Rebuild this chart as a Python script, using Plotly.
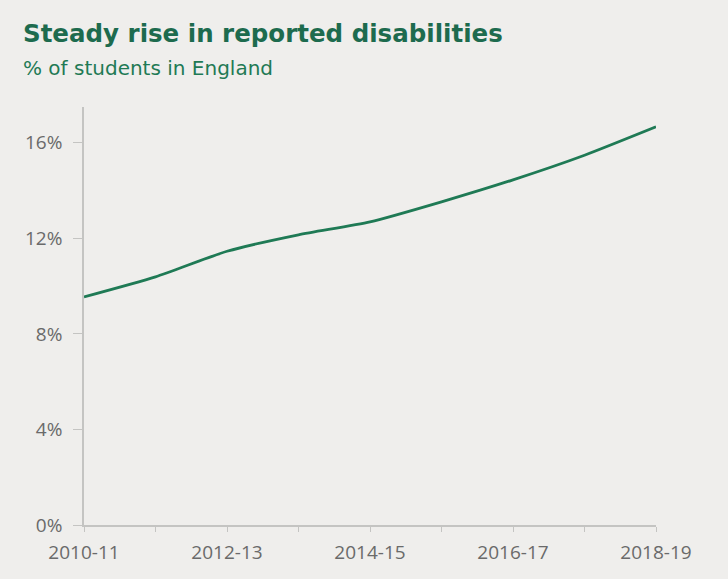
import plotly.graph_objects as go

years = ["2010-11", "2011-12", "2012-13", "2013-14", "2014-15",
         "2015-16", "2016-17", "2017-18", "2018-19"]
share = [9.55, 10.39, 11.46, 12.15, 12.69, 13.53, 14.45, 15.48, 16.67]
tick_text = ["2010-11", "", "2012-13", "", "2014-15", "", "2016-17", "", "2018-19"]
y_ticks = [0, 4, 8, 12, 16]
y_text = ["0%", "4%", "8%", "12%", "16%"]

title = "Steady rise in reported disabilities"
subtitle = "% of students in England"

bg = "#efeeec"
green = "#1f7a55"
title_green = "#1d6b4e"
grey_axis = "#c4c4c2"
grey_text = "#6a6a6a"

L, R, T, B = 84, 72, 107, 54
PW, PH = 728 - L - R, 579 - T - B

fig = go.Figure()
fig.add_trace(go.Scatter(
    x=list(range(len(years))), y=share, mode="lines",
    line=dict(color=green, width=2.8, shape="spline", smoothing=0.6),
    hoverinfo="skip", showlegend=False,
))

fig.update_layout(
    width=728, height=579,
    paper_bgcolor=bg, plot_bgcolor=bg,
    margin=dict(l=L, r=R, t=T, b=B),
    font=dict(family="Open Sans, sans-serif", color=grey_text),
    xaxis=dict(
        range=[0, 8], tickmode="array", tickvals=list(range(len(years))),
        ticktext=tick_text, showgrid=False, zeroline=False,
        showline=True, linecolor=grey_axis, linewidth=1.5,
        ticks="outside", ticklen=5, tickcolor=grey_axis, tickwidth=1.2,
        ticklabelstandoff=4,
        tickfont=dict(size=19, color=grey_text), fixedrange=True,
    ),
    yaxis=dict(
        range=[0, 17.5], tickmode="array", tickvals=y_ticks, ticktext=y_text,
        showgrid=False, zeroline=False,
        showline=True, linecolor=grey_axis, linewidth=1.5,
        ticks="outside", ticklen=9, tickcolor=grey_axis, tickwidth=1.2,
        ticklabelstandoff=7,
        tickfont=dict(size=19, color=grey_text), fixedrange=True,
    ),
    annotations=[
        dict(text="<b>" + title + "</b>", xref="paper", yref="paper",
             x=(21 - L) / PW, y=1 + (T - 34) / PH, xanchor="left", yanchor="middle",
             showarrow=False,
             font=dict(family="DejaVu Sans, sans-serif", size=24.5, color=title_green)),
        dict(text=subtitle, xref="paper", yref="paper",
             x=(21 - L) / PW, y=1 + (T - 68) / PH, xanchor="left", yanchor="middle",
             showarrow=False,
             font=dict(family="DejaVu Sans, sans-serif", size=20, color=green)),
    ],
)

fig.write_html("out.html")
